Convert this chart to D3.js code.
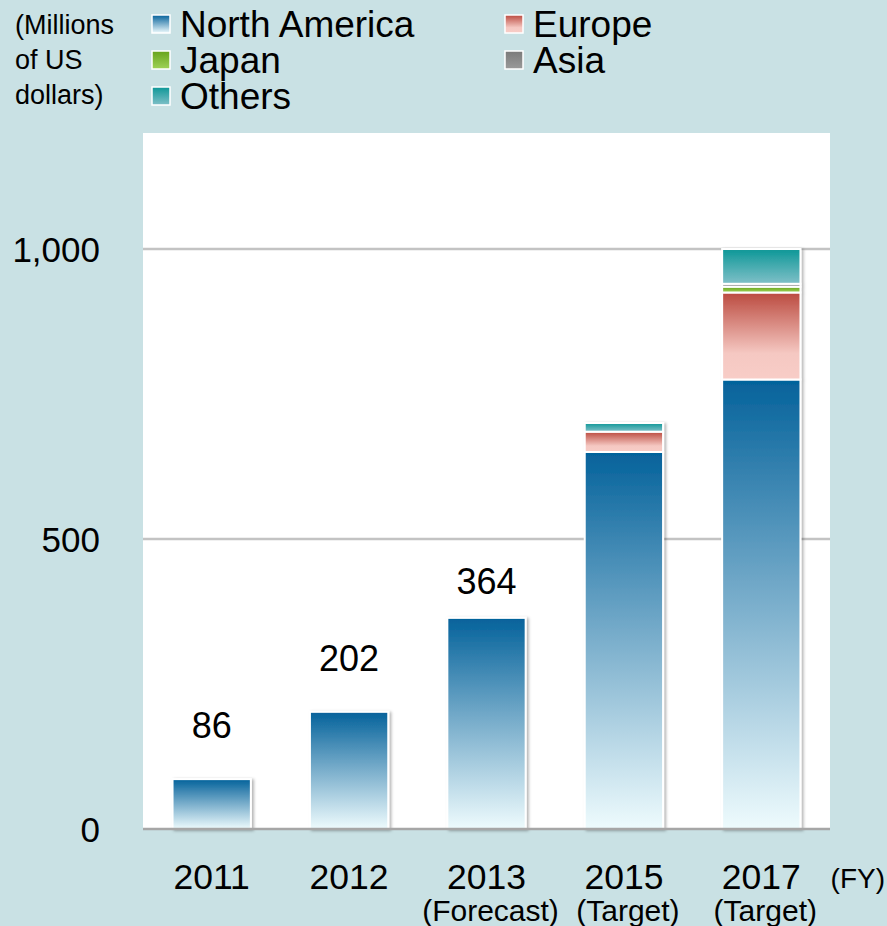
<!DOCTYPE html>
<html>
<head>
<meta charset="utf-8">
<script src="https://cdn.jsdelivr.net/npm/d3@7"></script>
<style>
  html, body { margin: 0; padding: 0; background: #c9e1e4; }
  svg { display: block; font-family: "Liberation Sans", Arial, sans-serif; }
</style>
</head>
<body>
<div id="chart"></div>
<script>
// chart values
var years = ["2011", "2012", "2013", "2015", "2017"];
var yearNotes = ["", "", "(Forecast)", "(Target)", "(Target)"];
var northAmerica = [86, 202, 364, 650, 775];
var europe = [0, 0, 0, 35, 150];
var japan = [0, 0, 0, 0, 10];
var asia = [0, 0, 0, 0, 5];
var others = [0, 0, 0, 15, 60];
var valueLabels = ["86", "202", "364", "", ""];
var seriesNames = ["North America", "Europe", "Japan", "Asia", "Others"];
var yTicks = [0, 500, 1000];

var width = 887, height = 926;
var plotLeft = 143, plotRight = 830, plotTop = 133, plotBottom = 829;

var svg = d3.select("#chart").append("svg")
  .attr("width", width)
  .attr("height", height);

var defs = svg.append("defs");

// gradients for each series (dark on top, light at the bottom)
var gradients = {
  "North America": [["0%", "#04629b"], ["45%", "#6fa7c7"], ["100%", "#eefbfd"]],
  "Europe": [["0%", "#bb4a3f"], ["70%", "#f5c8c2"], ["100%", "#f8cdc7"]],
  "Japan": [["0%", "#67a31c"], ["100%", "#9fd357"]],
  "Asia": [["0%", "#7a7a7a"], ["100%", "#9a9a9a"]],
  "Others": [["0%", "#0d9797"], ["100%", "#80c0c8"]]
};
function gradId(name) { return "grad-" + name.replace(/\s+/g, ""); }
seriesNames.forEach(function(name) {
  var g = defs.append("linearGradient")
    .attr("id", gradId(name))
    .attr("x1", 0).attr("y1", 0).attr("x2", 0).attr("y2", 1);
  gradients[name].forEach(function(s) {
    g.append("stop").attr("offset", s[0]).attr("stop-color", s[1]);
  });
});

var shadow = defs.append("filter").attr("id", "shadow")
  .attr("x", "-20%").attr("y", "-20%").attr("width", "140%").attr("height", "140%");
shadow.append("feDropShadow")
  .attr("dx", 2).attr("dy", 1).attr("stdDeviation", 1.6)
  .attr("flood-color", "#000").attr("flood-opacity", 0.3);

// plot background
svg.append("rect")
  .attr("x", plotLeft).attr("y", plotTop)
  .attr("width", plotRight - plotLeft).attr("height", plotBottom - plotTop)
  .attr("fill", "#ffffff");

var x = d3.scaleBand()
  .domain(years)
  .range([plotLeft, plotRight])
  .paddingInner(0.43)
  .paddingOuter(0.215);

var y = d3.scaleLinear()
  .domain([0, 1200])
  .range([plotBottom, plotTop]);

// gridlines
svg.append("g")
  .selectAll("line")
  .data(yTicks.filter(function(d) { return d > 0; }))
  .join("line")
    .attr("x1", plotLeft).attr("x2", plotRight)
    .attr("y1", function(d) { return y(d); })
    .attr("y2", function(d) { return y(d); })
    .attr("stroke", "#c3c3c3")
    .attr("stroke-width", 2.5);

// y axis labels
var yAxis = d3.axisLeft(y)
  .tickValues(yTicks)
  .tickSize(0)
  .tickPadding(43)
  .tickFormat(d3.format(","));
var yAxisG = svg.append("g")
  .attr("transform", "translate(" + plotLeft + ",0)")
  .call(yAxis);
yAxisG.select(".domain").remove();
yAxisG.selectAll("text")
  .attr("font-size", 35)
  .attr("dy", "0.37em")
  .attr("fill", "#000")
  .attr("font-family", "'Liberation Sans', Arial, sans-serif");

// stacked data
var rows = years.map(function(yr, i) {
  return {
    year: yr,
    "North America": northAmerica[i],
    "Europe": europe[i],
    "Japan": japan[i],
    "Asia": asia[i],
    "Others": others[i]
  };
});
var stacked = d3.stack().keys(seriesNames)(rows);

var barGroups = svg.append("g").selectAll("g")
  .data(years)
  .join("g")
    .attr("filter", "url(#shadow)");

stacked.forEach(function(layer) {
  barGroups.each(function(yr, i) {
    var seg = layer[i];
    if (seg[1] - seg[0] <= 0) return;
    d3.select(this).append("rect")
      .attr("x", x(yr))
      .attr("width", x.bandwidth())
      .attr("y", y(seg[1]))
      .attr("height", y(seg[0]) - y(seg[1]))
      .attr("fill", "url(#" + gradId(layer.key) + ")")
      .attr("stroke", "#ffffff")
      .attr("stroke-width", 2);
  });
});

// baseline
svg.append("line")
  .attr("x1", plotLeft).attr("x2", plotRight)
  .attr("y1", y(0)).attr("y2", y(0))
  .attr("stroke", "#a6a6a6")
  .attr("stroke-width", 2.5);

// value labels above the single-series bars
var labelLift = [41, 41, 24, 0, 0];
svg.append("g").selectAll("text")
  .data(years)
  .join("text")
    .attr("x", function(d) { return x(d) + x.bandwidth() / 2; })
    .attr("y", function(d, i) { return y(northAmerica[i]) - labelLift[i]; })
    .attr("text-anchor", "middle")
    .attr("font-size", 36)
    .text(function(d, i) { return valueLabels[i]; });

// category labels
svg.append("g").selectAll("text")
  .data(years)
  .join("text")
    .attr("x", function(d) { return x(d) + x.bandwidth() / 2; })
    .attr("y", 889)
    .attr("text-anchor", "middle")
    .attr("font-size", 35.5)
    .text(function(d) { return d; });

svg.append("g").selectAll("text")
  .data(years)
  .join("text")
    .attr("x", function(d) { return x(d) + x.bandwidth() / 2 + 4; })
    .attr("y", 921)
    .attr("text-anchor", "middle")
    .attr("font-size", 30)
    .text(function(d, i) { return yearNotes[i]; });

svg.append("text")
  .attr("x", 885).attr("y", 888)
  .attr("text-anchor", "end")
  .attr("font-size", 28)
  .text("(FY)");

// unit label
var unitLines = ["(Millions", "of US", "dollars)"];
svg.append("g").selectAll("text")
  .data(unitLines)
  .join("text")
    .attr("x", 15)
    .attr("y", function(d, i) { return 34 + i * 35; })
    .attr("font-size", 27)
    .text(function(d) { return d; });

// legend
var legendPos = {
  "North America": [152, 0],
  "Europe": [505, 0],
  "Japan": [152, 1],
  "Asia": [505, 1],
  "Others": [152, 2]
};
var legend = svg.append("g").selectAll("g")
  .data(seriesNames)
  .join("g")
    .attr("transform", function(d) {
      return "translate(" + legendPos[d][0] + "," + (15 + legendPos[d][1] * 36) + ")";
    });
legend.append("rect")
  .attr("width", 18).attr("height", 18)
  .attr("fill", function(d) { return "url(#" + gradId(d) + ")"; })
  .attr("stroke", "#ffffff")
  .attr("stroke-width", 1.5);
legend.append("text")
  .attr("x", 28)
  .attr("y", 22)
  .attr("font-size", 37)
  .text(function(d) { return d; });
</script>
</body>
</html>
